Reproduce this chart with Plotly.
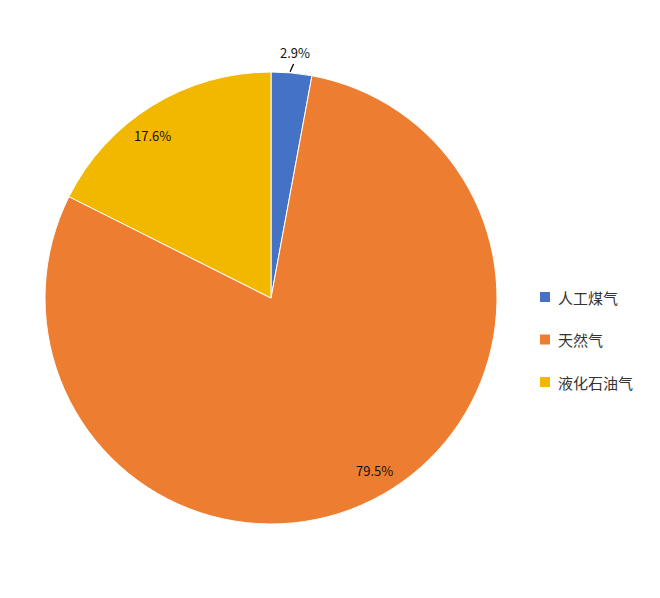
import math
import plotly.graph_objects as go

# 燃气类型占比
labels = ["人工煤气", "天然气", "液化石油气"]
shares = [2.9, 79.5, 17.6]
colors = ["#4472C4", "#ED7D31", "#F2B800"]

W, H = 660, 598
cx, cy, R = 263, 290, 226  # pie centre / radius in figure pixels

fig = go.Figure(go.Pie(
    labels=labels,
    values=shares,
    sort=False,
    direction="clockwise",
    rotation=0,
    marker=dict(colors=colors, line=dict(color="white", width=1)),
    textinfo="none",
    hoverinfo="label+percent",
    showlegend=False,
    domain=dict(x=[(cx - R) / W, (cx + R) / W], y=[1 - (cy + R) / H, 1 - (cy - R) / H]),
))


def to_paper(r, ang):
    a = math.radians(ang)
    return (cx + r * math.sin(a)) / W, 1 - (cy - r * math.cos(a)) / H


# percentage labels placed from the slice mid-angles
total = sum(shares)
start = 0
for i, v in enumerate(shares):
    mid = (start + v / 2) / total * 360
    start += v
    txt = f"{v:.1f}%"
    if i == 0:
        # small slice: label outside with a short leader line
        x0, y0 = to_paper(R + 1, mid - 0.4)
        x1, y1 = to_paper(R + 9, mid + 0.3)
        fig.add_shape(type="line", xref="paper", yref="paper",
                      x0=x0, y0=y0, x1=x1, y1=y1,
                      line=dict(color="#000000", width=1.3))
        tx, ty = to_paper(R + 21, mid + 0.4)
    else:
        tx, ty = to_paper(R * 0.89, mid - 4.5)
    fig.add_annotation(x=tx, y=ty, xref="paper", yref="paper", text=txt,
                       xanchor="center", yanchor="middle", showarrow=False,
                       font=dict(size=13, color="#111111"))

# legend drawn by hand so the item spacing matches
lx, ly0, step = 532, 289, 42.5
for i, (lab, col) in enumerate(zip(labels, colors)):
    y = ly0 + i * step
    fig.add_shape(type="rect", xref="paper", yref="paper",
                  x0=lx / W, x1=(lx + 10) / W,
                  y0=1 - (y + 5) / H, y1=1 - (y - 5) / H,
                  fillcolor=col, line=dict(width=0))
    fig.add_annotation(x=(lx + 16) / W, y=1 - y / H, xref="paper", yref="paper",
                       text=lab, xanchor="left", yanchor="middle", showarrow=False,
                       font=dict(size=15, color="#333333"))

fig.update_layout(
    width=W, height=H,
    margin=dict(l=0, r=0, t=0, b=0),
    paper_bgcolor="white",
    font=dict(family="Noto Sans CJK SC, Noto Sans, sans-serif", size=14, color="#000000"),
    showlegend=False,
)

fig.write_html("out.html")
